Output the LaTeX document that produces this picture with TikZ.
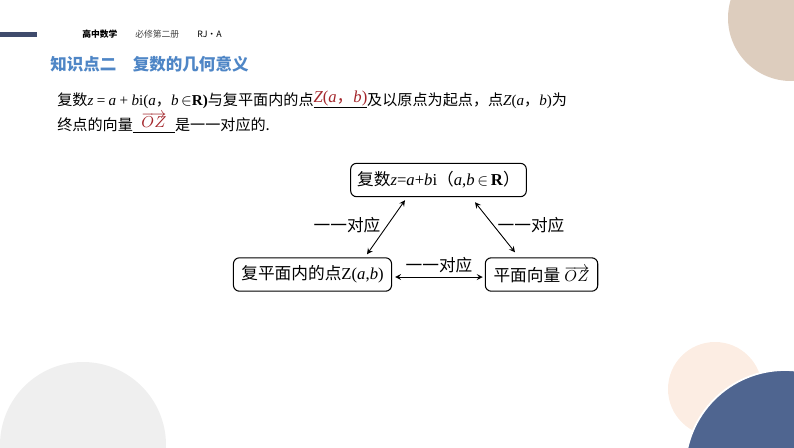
\documentclass[tikz,border=0pt]{standalone}
\usepackage{fontspec}
\setmainfont{Liberation Serif}
\newfontfamily\cjk{Noto Sans CJK SC}
\usetikzlibrary{calc}
\definecolor{barblue}{HTML}{3F4B6C}
\definecolor{titleblue}{HTML}{4F86C6}
\definecolor{answer}{HTML}{A3262B}
\definecolor{tan}{HTML}{DDCDBE}
\definecolor{peach}{HTML}{FCEDE3}
\definecolor{navy}{HTML}{4F6590}
\definecolor{paleg}{HTML}{EFEFEF}
\newcommand\mi[1]{{\rmfamily\itshape #1}}
\newcommand\mr[1]{{\rmfamily #1}}
\newcommand\blankfill[2]{\rlap{\rule[-1.8pt]{#1}{0.4pt}}\makebox[#1]{\raisebox{1.5pt}{\color{answer}\rmfamily #2}}}

\begin{document}
\begin{tikzpicture}[x=0.02cm,y=-0.02cm,
    box/.style={draw,rounded corners=3.4pt,line width=0.6pt,minimum height=19pt,inner sep=2pt,font=\fontsize{9.5}{11}\selectfont},
    pair/.style={<->,>=stealth,line width=0.5pt},
    lbl/.style={font=\fontsize{9.5}{11}\selectfont\cjk},
    body/.style={anchor=base west,inner sep=0pt,font=\fontsize{8.6}{10}\selectfont}]
    \useasboundingbox (0,0) rectangle (794,447);
    \begin{scope}
        \clip (0,0) rectangle (794,447);
        \fill[tan] (791,18) circle[radius=63];
        \fill[paleg] (83,445) circle[radius=83];
        \fill[peach] (715,389) circle[radius=47];
        \filldraw[fill=navy,draw=white,line width=1pt] (785,470) circle[radius=100];
    \end{scope}
    \fill[barblue] (0,32) rectangle (37,36.5);
    \node[anchor=west,inner sep=0pt,font=\fontsize{5}{6}\selectfont\cjk\bfseries] (hd1) at (82,34.5) {高中数学};
    \node[anchor=west,inner sep=0pt,font=\fontsize{5}{6}\selectfont\cjk,text=black!75] (hd2) at (135,34.5) {必修第二册};
    \node[anchor=west,inner sep=0pt,font=\fontsize{5}{6}\selectfont\cjk] (hd3) at (197,34.5) {RJ·A};
    \node[anchor=west,inner sep=0pt,font=\fontsize{9.4}{11}\selectfont\cjk\bfseries,text=titleblue] (title) at (50,64) {知识点二\quad 复数的几何意义};
    \node[body] (line1) at (57,105) {\cjk 复数\mi{z} \mr{=} \mi{a} \mr{+} \mi{b}\mr{i(}\mi{a}，\mi{b}\,$\in$\mr{\bfseries R)}与复平面内的点\blankfill{30.5pt}{\fontsize{9.5}{11}\selectfont\mi{Z}(\mi{a}{\cjk ，}\mi{b})}及以原点为起点，点\mi{Z}\mr{(}\mi{a}，\mi{b}\mr{)}为};
    \node[body] (line2) at (57,130) {\cjk 终点的向量\blankfill{24pt}{\fontsize{9.5}{11}\selectfont$\overrightarrow{OZ}$}是一一对应的.};
    \node[box,minimum width=100pt] (num) at (438.5,180) {{\cjk 复数}\mi{z}=\mi{a}+\mi{b}i{\cjk （}\mi{a},\mi{b}$\,\in\,$\textbf{R}{\cjk ）}};
    \node[box,minimum width=90pt] (pt) at (312.5,274.5) {{\cjk 复平面内的点}Z(\mi{a},\mi{b})};
    \node[box,minimum width=64pt] (vec) at (541.5,274.5) {{\cjk 平面向量} $\overrightarrow{OZ}$};
    \draw[pair] ($(num.south)+(-33.5,3)$) -- ($(pt.north)+(54.5,-3)$);
    \draw[pair] ($(num.south)+(36.5,5)$) -- ($(vec.north)+(-26.5,-5)$);
    \draw[pair] ($(pt.east)+(3,2.5)$) -- ($(vec.west)+(-2,2.5)$);
    \node[lbl] (l1) at (347,225) {一一对应};
    \node[lbl] (l2) at (531,225) {一一对应};
    \node[lbl] (l3) at (439,265) {一一对应};
\end{tikzpicture}
\end{document}
